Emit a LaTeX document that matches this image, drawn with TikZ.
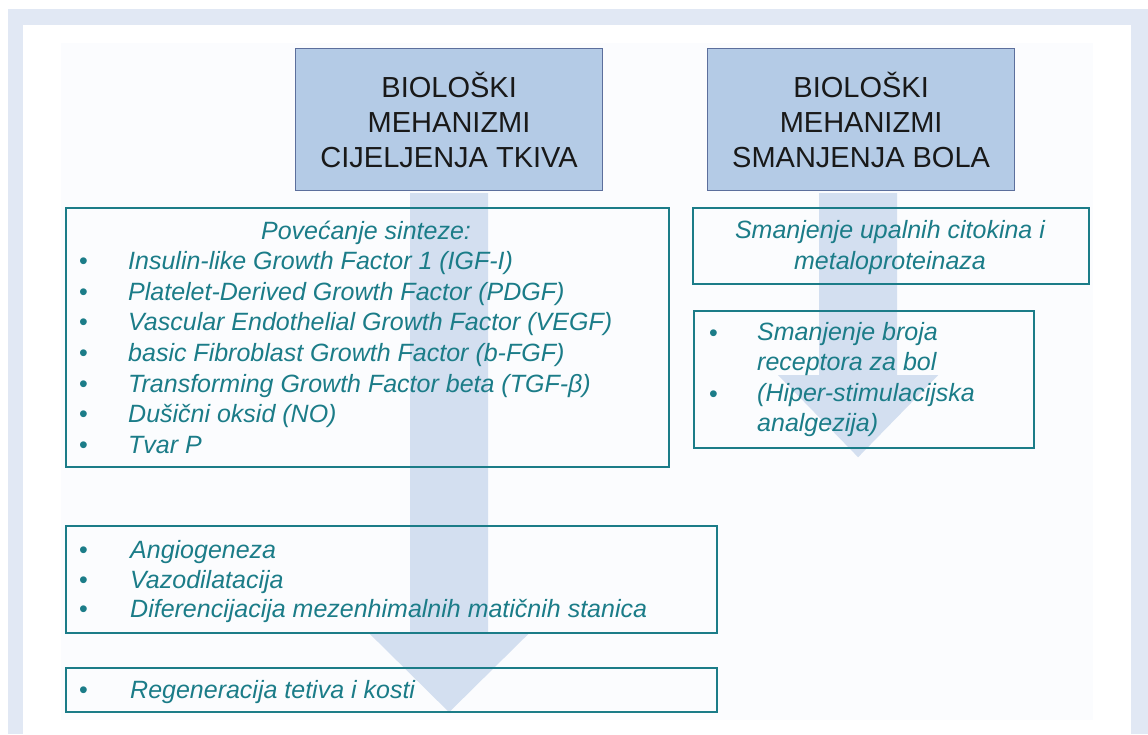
\documentclass[tikz,border=0pt]{standalone}
\usepackage{fontspec}
\setmainfont{Liberation Sans}
\usetikzlibrary{calc}

\definecolor{framebg}{HTML}{E1E8F4}
\definecolor{slidebg}{HTML}{FBFCFE}
\definecolor{headfill}{HTML}{B4CBE6}
\definecolor{headline}{HTML}{5C6F9C}
\definecolor{tealtxt}{HTML}{1B7C88}
\definecolor{arrowfill}{HTML}{D3DFF0}

\tikzset{
  head/.style={draw=headline, fill=headfill, line width=1.2pt, anchor=north west,
    minimum width=307pt, minimum height=142pt, align=center, text=black!90,
    font=\fontsize{29}{35}\selectfont},
  listbox/.style={draw=tealtxt, line width=1.8pt, anchor=north west, inner sep=0pt},
  item/.style={anchor=base west, inner sep=0pt, text=tealtxt,
    font=\fontsize{25}{30}\selectfont\itshape},
  dot/.style={anchor=base west, inner sep=0pt, text=tealtxt,
    font=\fontsize{25}{30}\selectfont},
}

\begin{document}
\begin{tikzpicture}[x=1pt,y=-1pt]
    % page frame
    \fill[white] (0,0) rectangle (1148,734);
    \fill[framebg] (8,9) rectangle (1148,734);
    \fill[white] (23,25) rectangle (1131,734);
    \fill[slidebg] (61,43) rectangle (1093,720);

    % header boxes
    \node[head] (heal) at (295,48) {BIOLOŠKI\\MEHANIZMI\\CIJELJENJA TKIVA};
    \node[head] (pain) at (707,48) {BIOLOŠKI\\MEHANIZMI\\SMANJENJA BOLA};

    % big arrows behind the lists
    \coordinate (hs) at ($(heal.south)+(0,2)$);
    \coordinate (ps) at ($(pain.south)+(-3,2)$);
    \fill[arrowfill] ($(hs)+(-39,0)$) -- ($(hs)+(39,0)$) -- ($(hs)+(39,440)$)
        -- ($(hs)+(80,440)$) -- ($(hs)+(0,519)$) -- ($(hs)+(-80,440)$)
        -- ($(hs)+(-39,440)$) -- cycle;
    \fill[arrowfill] ($(ps)+(-39,0)$) -- ($(ps)+(39,0)$) -- ($(ps)+(39,182)$)
        -- ($(ps)+(80,182)$) -- ($(ps)+(0,264)$) -- ($(ps)+(-80,182)$)
        -- ($(ps)+(-39,182)$) -- cycle;

    % list boxes
    \node[listbox, minimum width=603pt, minimum height=259pt] (syn) at (65,207) {};
    \node[listbox, minimum width=396pt, minimum height=76pt] (upal) at (692,207) {};
    \node[listbox, minimum width=340pt, minimum height=137pt] (rec) at (693,310) {};
    \node[listbox, minimum width=651pt, minimum height=107pt] (eff) at (65,525) {};
    \node[listbox, minimum width=651pt, minimum height=44pt] (reg) at (65,667) {};

    % synthesis list
    \node[item, anchor=base] (syntitle) at (366,239) {Povećanje sinteze:};
    \foreach \txt [count=\i] in {Insulin-like Growth Factor 1 (IGF-I),
        Platelet-Derived Growth Factor (PDGF),
        Vascular Endothelial Growth Factor (VEGF),
        basic Fibroblast Growth Factor (b-FGF),
        Transforming Growth Factor beta (TGF-β),
        Dušični oksid (NO),
        Tvar P}{
      \node[dot] (syndot\i) at (79,239+30.6*\i) {•};
      \node[item] (synitem\i) at (128,239+30.6*\i) {\txt};
    }

    % pain side
    \node[item, anchor=base] (upal1) at (890,238) {Smanjenje upalnih citokina i};
    \node[item, anchor=base] (upal2) at (890,269) {metaloproteinaza};
    \node[dot] (recdot1) at (709,341) {•};
    \node[dot] (recdot2) at (709,402) {•};
    \foreach \txt [count=\i] in {{Smanjenje broja}, {receptora za bol},
        {(Hiper-stimulacijska}, {analgezija)}}{
      \node[item] (recitem\i) at (757,310+30.4*\i) {\txt};
    }

    % effects
    \foreach \txt [count=\i] in {Angiogeneza, Vazodilatacija,
        Diferencijacija mezenhimalnih matičnih stanica}{
      \node[dot] (effdot\i) at (79,529+29.5*\i) {•};
      \node[item] (effitem\i) at (130,529+29.5*\i) {\txt};
    }
    \node[dot] (regdot) at (79,698) {•};
    \node[item] (regitem) at (130,698) {Regeneracija tetiva i kosti};
\end{tikzpicture}
\end{document}
